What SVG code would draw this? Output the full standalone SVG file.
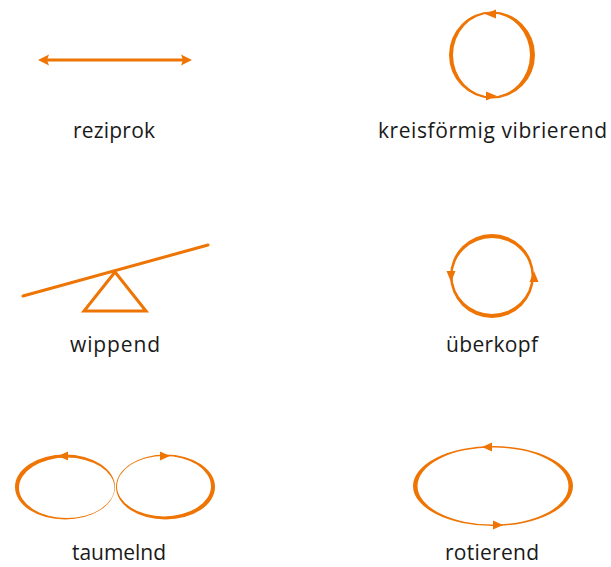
<svg xmlns="http://www.w3.org/2000/svg" width="611" height="567" viewBox="0 0 611 567">
<style>
.lbl{font-family:"Open Sans","DejaVu Sans",sans-serif;font-size:21px;fill:#1a1a1a;text-anchor:middle}
.ring{fill:#EE7404;fill-rule:evenodd;stroke:none}
.ln{stroke:#EE7404;stroke-width:3;fill:none;stroke-linecap:round}
.ah{fill:#EE7404}
</style>
<rect width="611" height="567" fill="#fff"/>
<g id="reziprok">
<line x1="46" y1="60" x2="184" y2="60" class="ln" stroke-linecap="butt"/>
<polygon class="ah" points="38,60 49,54.5 47,60 49,65.5"/>
<polygon class="ah" points="192,60 181,54.5 183,60 181,65.5"/>
<text class="lbl" x="114" y="138" textLength="82" lengthAdjust="spacing">reziprok</text>
</g>
<g id="kreisfoermig">
<path class="ring" d="M449,55 a43,43.6 0 1,0 86,0 a43,43.6 0 1,0 -86,0 Z M453,55 a38.5,41.4 0 1,0 77,0 a38.5,41.4 0 1,0 -77,0 Z"/>
<polygon class="ah" points="485,14 496,9.5 496,18.5"/>
<polygon class="ah" points="497,96 486,91.5 486,100.5"/>
<text class="lbl" x="492.5" y="138" textLength="229" lengthAdjust="spacing">kreisförmig vibrierend</text>
</g>
<g id="wippend">
<line x1="23" y1="296" x2="208" y2="245" class="ln"/>
<polygon points="115,272 84,311 146,311" fill="none" stroke="#EE7404" stroke-width="3" stroke-linejoin="miter"/>
<text class="lbl" x="115" y="352" textLength="90" lengthAdjust="spacing">wippend</text>
</g>
<g id="ueberkopf">
<path class="ring" d="M450,276 a42,42 0 1,0 84,0 a42,42 0 1,0 -84,0 Z M452.5,276 a39.5,38 0 1,0 79,0 a39.5,38 0 1,0 -79,0 Z"/>
<polygon class="ah" points="451,282 446.5,271 455.5,271"/>
<polygon class="ah" points="534,271 529.5,282 538.5,282"/>
<text class="lbl" x="492" y="352" textLength="92" lengthAdjust="spacing">überkopf</text>
</g>
<g id="taumelnd">
<path class="ring" d="M15,487 a50,32.5 0 1,0 100,0 a50,32.5 0 1,0 -100,0 Z M19,487.8 a47.7,30.2 0 1,0 95.4,0 a47.7,30.2 0 1,0 -95.4,0 Z"/>
<path class="ring" d="M116,487 a49.5,32.5 0 1,0 99,0 a49.5,32.5 0 1,0 -99,0 Z M117,486.2 a47,30.2 0 1,0 94,0 a47,30.2 0 1,0 -94,0 Z"/>
<polygon class="ah" points="58,456 68,451.5 68,460.5"/>
<polygon class="ah" points="170,456 160,451.5 160,460.5"/>
<text class="lbl" x="119" y="560" textLength="94" lengthAdjust="spacing">taumelnd</text>
</g>
<g id="rotierend">
<path class="ring" d="M413,486 a80,40 0 1,0 160,0 a80,40 0 1,0 -160,0 Z M417.5,486 a75.5,38.6 0 1,0 151,0 a75.5,38.6 0 1,0 -151,0 Z"/>
<polygon class="ah" points="482,447 492,442.5 492,451.5"/>
<polygon class="ah" points="503,525 493,520.5 493,529.5"/>
<text class="lbl" x="492" y="560" textLength="94" lengthAdjust="spacing">rotierend</text>
</g>
</svg>
